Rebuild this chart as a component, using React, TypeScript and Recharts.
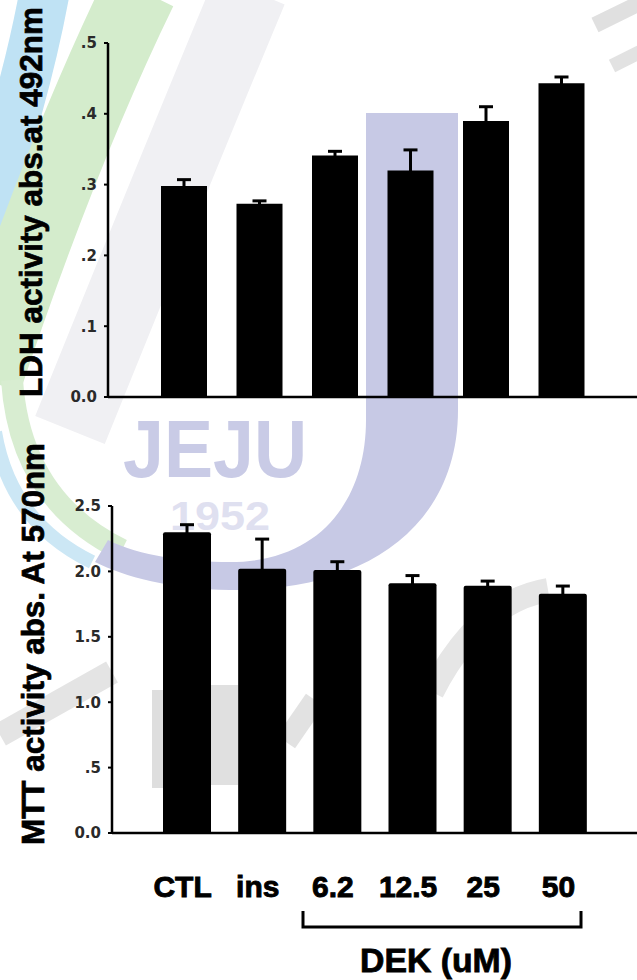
import React from 'react';
import { BarChart, Bar, XAxis, YAxis, ErrorBar } from 'recharts';

const categories = ['CTL', 'ins', '6.2', '12.5', '25', '50'];
const ldhValues = [0.298, 0.273, 0.341, 0.32, 0.39, 0.443];
const ldhErrors = [0.009, 0.004, 0.006, 0.029, 0.02, 0.009];
const mttValues = [2.3, 2.02, 2.01, 1.91, 1.89, 1.83];
const mttErrors = [0.057, 0.227, 0.064, 0.058, 0.036, 0.058];
const ldhTicks = [0, 0.1, 0.2, 0.3, 0.4, 0.5];
const ldhTickLabels = ['0.0', '.1', '.2', '.3', '.4', '.5'];
const mttTicks = [0, 0.5, 1, 1.5, 2, 2.5];
const mttTickLabels = ['0.0', '.5', '1.0', '1.5', '2.0', '2.5'];
const ldhAxisTitle = 'LDH activity abs.at 492nm';
const mttAxisTitle = 'MTT activity abs. At 570nm';
const groupTitle = 'DEK (uM)';
const watermarkName = 'JEJU';
const watermarkYear = '1952';

const ldhData = categories.map((name, i) => ({ name, value: ldhValues[i], err: ldhErrors[i] }));
const mttData = categories.map((name, i) => ({ name, value: mttValues[i], err: mttErrors[i] }));

const FONT = '"Liberation Sans", Arial, Helvetica, sans-serif';
const TICK_FONT = '"DejaVu Sans", "Liberation Sans", sans-serif';

const yTickStyle = { fontFamily: TICK_FONT, fontWeight: 700, fontSize: 15, fill: '#2a2a2a' };

const CategoryTick = (props: any) => {
  const { x, y, payload } = props;
  return (
    <text
      x={x - 4}
      y={y + 64}
      textAnchor="middle"
      fontFamily={FONT}
      fontWeight={700}
      fontSize={30}
      fill="#000"
      stroke="#000"
      strokeWidth={0.9}
    >
      {payload.value}
    </text>
  );
};

const Watermark = () => (
  <svg width={637} height={980} style={{ position: 'absolute', left: 0, top: 0 }}>
    <path d="M 250 -10 Q 175 170 70 430" stroke="#f0f0f3" strokeWidth={75} fill="none" />
    <path d="M 45 -10 Q 25 100 -22 232" stroke="#bfe2f4" strokeWidth={50} fill="none" />
    <path d="M 140 -10 Q 62 150 -15 380" stroke="#d4eccc" strokeWidth={74} fill="none" />
    <path d="M 12 380 Q 20 500 122 550" stroke="#d8edd1" strokeWidth={22} fill="none" />
    <path d="M -5 432 Q 10 522 92 562" stroke="#cce7f5" strokeWidth={14} fill="none" />
    <path
      d="M 366 113 L 458 113 L 458 410 C 458 530 360 592 230 590 C 170 589 125 577 95 562 L 108 540 C 140 556 185 562 230 562 C 320 562 366 500 366 420 Z"
      fill="#c7c9e5"
    />
    <text x={215} y={477} textAnchor="middle" fontFamily={FONT} fontWeight={700} fontSize={82}
      fill="#c9cbe6" textLength={184} lengthAdjust="spacingAndGlyphs">{watermarkName}</text>
    <text x={220} y={530} textAnchor="middle" fontFamily={FONT} fontWeight={700} fontSize={40}
      fill="#dfe0f0" textLength={100} lengthAdjust="spacingAndGlyphs">{watermarkYear}</text>
    <path d="M 0 735 L 112 672" stroke="#e4e4e4" strokeWidth={24} fill="none" />
    <rect x={152} y={690} width={12} height={98} fill="#dedede" />
    <rect x={211} y={685} width={27} height={100} fill="#e0e0e0" />
    <path d="M 286 742 L 315 700" stroke="#e2e2e2" strokeWidth={22} fill="none" />
    <path d="M 432 692 Q 478 602 548 590" stroke="#e6e6e6" strokeWidth={24} fill="none" />
    <path d="M 595 25 L 640 3" stroke="#e0e0e0" strokeWidth={16} fill="none" />
    <path d="M 612 66 L 640 52" stroke="#e2e2e2" strokeWidth={14} fill="none" />
  </svg>
);

const Annotations = () => (
  <svg width={637} height={980} style={{ position: 'absolute', left: 0, top: 0 }}>
    <text
      transform="translate(42 202) rotate(-90)"
      textAnchor="middle"
      fontFamily={FONT}
      fontWeight={700}
      fontSize={31}
      fill="#000"
      stroke="#000"
      strokeWidth={0.7}
      textLength={390}
      lengthAdjust="spacingAndGlyphs"
    >
      {ldhAxisTitle}
    </text>
    <text
      transform="translate(44 644) rotate(-90)"
      textAnchor="middle"
      fontFamily={FONT}
      fontWeight={700}
      fontSize={31}
      fill="#000"
      stroke="#000"
      strokeWidth={0.7}
      textLength={402}
      lengthAdjust="spacingAndGlyphs"
    >
      {mttAxisTitle}
    </text>
    <path d="M 303 911 L 303 927 L 581 927 L 581 911" stroke="#000" strokeWidth={3} fill="none" />
    <text x={436} y={972} textAnchor="middle" fontFamily={FONT} fontWeight={700} fontSize={33}
      fill="#000" stroke="#000" strokeWidth={0.8} textLength={152} lengthAdjust="spacingAndGlyphs">{groupTitle}</text>
  </svg>
);

export default function App() {
  return (
    <div
      style={{
        position: 'absolute',
        left: 0,
        top: 0,
        width: 637,
        height: 980,
        background: '#ffffff',
        overflow: 'hidden',
      }}
    >
      <Watermark />
      <div style={{ position: 'absolute', left: 0, top: 0 }}>
        <BarChart width={637} height={420} data={ldhData} margin={{ top: 43, right: 0, bottom: 0, left: 0 }}>
          <XAxis
            dataKey="name"
            type="category"
            height={23}
            padding={{ left: 38, right: 38 }}
            tick={false}
            tickLine={false}
            axisLine={{ stroke: '#000', strokeWidth: 2.5 }}
          />
          <YAxis
            type="number"
            domain={[0, 0.5]}
            ticks={ldhTicks}
            interval={0}
            width={108}
            tickSize={4}
            tickMargin={7}
            tickFormatter={(v: number, i: number) => ldhTickLabels[i] ?? String(v)}
            tick={yTickStyle}
            tickLine={{ stroke: '#000', strokeWidth: 2 }}
            axisLine={{ stroke: '#000', strokeWidth: 2.5 }}
          />
          <Bar dataKey="value" fill="#000" barSize={46} isAnimationActive={false}>
            <ErrorBar dataKey="err" direction="y" width={7} stroke="#000" strokeWidth={3} isAnimationActive={false} />
          </Bar>
        </BarChart>
      </div>
      <div style={{ position: 'absolute', left: 0, top: 440 }}>
        <BarChart width={637} height={540} data={mttData} margin={{ top: 66, right: 0, bottom: 0, left: 0 }}>
          <XAxis
            dataKey="name"
            type="category"
            height={147}
            padding={{ left: 37, right: 37 }}
            tick={<CategoryTick />}
            tickSize={0}
            tickMargin={0}
            tickLine={false}
            interval={0}
            axisLine={{ stroke: '#000', strokeWidth: 2.5 }}
          />
          <YAxis
            type="number"
            domain={[0, 2.5]}
            ticks={mttTicks}
            interval={0}
            width={112}
            tickSize={4}
            tickMargin={7}
            tickFormatter={(v: number, i: number) => mttTickLabels[i] ?? String(v)}
            tick={yTickStyle}
            tickLine={{ stroke: '#000', strokeWidth: 2 }}
            axisLine={{ stroke: '#000', strokeWidth: 2.5 }}
          />
          <Bar dataKey="value" fill="#000" barSize={48} radius={[2, 2, 0, 0]} isAnimationActive={false}>
            <ErrorBar dataKey="err" direction="y" width={7} stroke="#000" strokeWidth={3} isAnimationActive={false} />
          </Bar>
        </BarChart>
      </div>
      <Annotations />
    </div>
  );
}
